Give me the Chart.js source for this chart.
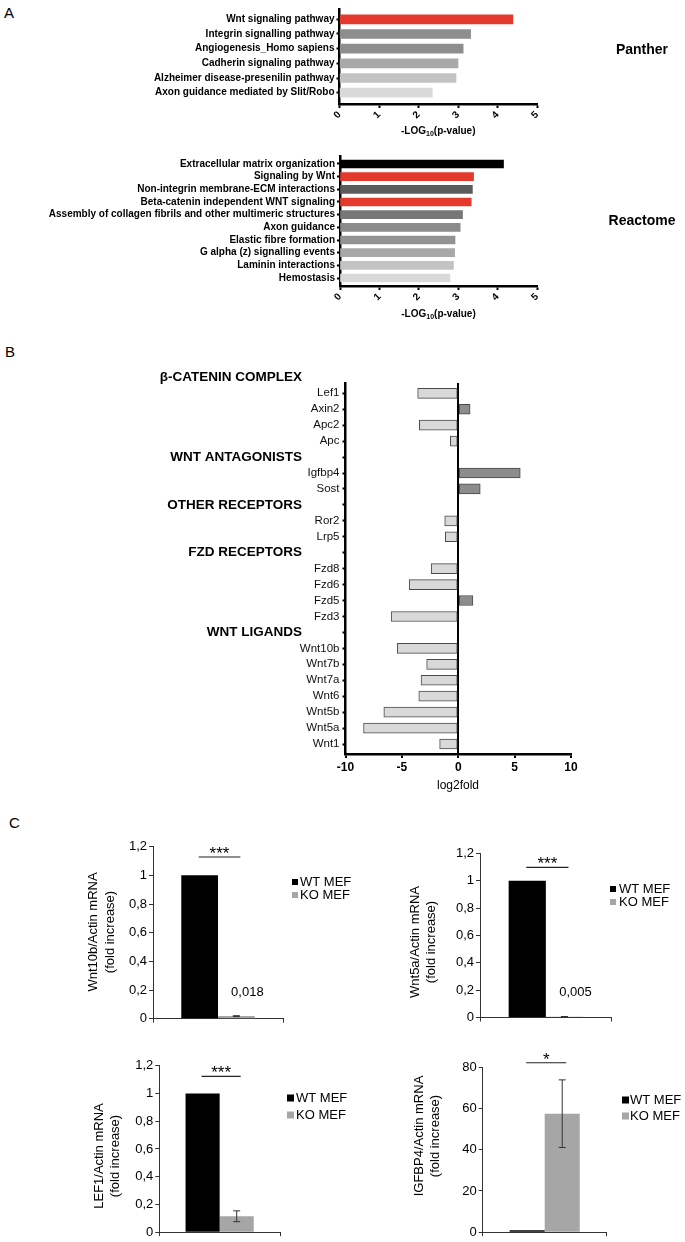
<!DOCTYPE html>
<html>
<head>
<meta charset="utf-8">
<script src="https://cdn.jsdelivr.net/npm/chart.js@4.4.1/dist/chart.umd.min.js"></script>
<style>
  html, body { margin: 0; padding: 0; background: #fff; }
  #page { position: relative; width: 685px; height: 1242px; overflow: hidden; }
  #page canvas { position: absolute; left: 0; top: 0; }
  .panel { position: absolute; font: 15px "Liberation Sans", Arial, sans-serif; color: #000; line-height: 17px; }
</style>
</head>
<body>
<div id="page">
  <div class="panel" style="left:4px;top:4px">A</div>
  <div class="panel" style="left:5px;top:343px">B</div>
  <div class="panel" style="left:9px;top:814px">C</div>
  <canvas id="panther" width="685" height="1242"></canvas>
  <canvas id="reactome" width="685" height="1242"></canvas>
  <canvas id="fold" width="685" height="1242"></canvas>
  <canvas id="q0" width="685" height="1242"></canvas>
  <canvas id="q1" width="685" height="1242"></canvas>
  <canvas id="q2" width="685" height="1242"></canvas>
  <canvas id="q3" width="685" height="1242"></canvas>
</div>
<script>
// ---- panel A: enrichment ----
const pantherTerms = ['Wnt signaling pathway', 'Integrin signalling pathway', 'Angiogenesis_Homo sapiens',
  'Cadherin signaling pathway', 'Alzheimer disease-presenilin pathway', 'Axon guidance mediated by Slit/Robo'];
const pantherValues = [4.39, 3.32, 3.13, 3.0, 2.95, 2.35];
const pantherColors = ['#e33a2d', '#8e8e8e', '#8e8e8e', '#a8a8a8', '#c3c3c3', '#d9d9d9'];

const reactomeTerms = ['Extracellular matrix organization', 'Signaling by Wnt', 'Non-integrin membrane-ECM interactions',
  'Beta-catenin independent WNT signaling', 'Assembly of collagen fibrils and other multimeric structures',
  'Axon guidance', 'Elastic fibre formation', 'G alpha (z) signalling events', 'Laminin interactions', 'Hemostasis'];
const reactomeValues = [4.15, 3.39, 3.36, 3.33, 3.11, 3.05, 2.92, 2.91, 2.88, 2.79];
const reactomeColors = ['#000000', '#e33a2d', '#5b5b5b', '#e33a2d', '#777777', '#8b8b8b', '#939393', '#a8a8a8', '#c3c3c3', '#d9d9d9'];

// ---- panel B: log2 fold change ----
const genes = ['Lef1', 'Axin2', 'Apc2', 'Apc', '', 'Igfbp4', 'Sost', '', 'Ror2', 'Lrp5', '',
  'Fzd8', 'Fzd6', 'Fzd5', 'Fzd3', '', 'Wnt10b', 'Wnt7b', 'Wnt7a', 'Wnt6', 'Wnt5b', 'Wnt5a', 'Wnt1'];
const log2fold = [-3.6, 1.05, -3.45, -0.7, null, 5.5, 1.95, null, -1.2, -1.15, null,
  -2.4, -4.35, 1.3, -5.95, null, -5.4, -2.8, -3.3, -3.5, -6.6, -8.4, -1.65];
const groupNames = ['β-CATENIN COMPLEX', 'WNT ANTAGONISTS', 'OTHER RECEPTORS', 'FZD RECEPTORS', 'WNT LIGANDS'];
const groupRows = [-1, 4, 7, 10, 15];

// ---- panel C: qPCR ----
const groups = ['WT MEF', 'KO MEF'];
const qpcrGenes = ['Wnt10b', 'Wnt5a', 'LEF1', 'IGFBP4'];
const wtValues = [1, 1, 1, 1];
const koValues = [0.018, 0.005, 0.115, 57.5];
const koErrors = [0.003, 0.002, 0.039, 16.4];
const significance = ['***', '***', '***', '*'];
const showValue = [true, true, false, false];

const W = 685, H = 1242;
const FONT = '"Liberation Sans", Arial, Helvetica, sans-serif';
Chart.defaults.font.family = FONT;
Chart.defaults.color = '#000';

// chart area placed at page coordinates [left, top, right, bottom]
function pad(area, yw, xh) {
  return { left: area[0] - yw, top: area[1], right: W - area[2], bottom: H - area[3] - xh };
}

function text(ctx, str, x, y, font, align) {
  ctx.font = font;
  ctx.textAlign = align || 'center';
  ctx.textBaseline = 'middle';
  ctx.fillStyle = '#000';
  ctx.fillText(str, x, y);
}

function logTitle(ctx, cx, cy) {
  const parts = [['-LOG', 'bold 10px ' + FONT, 0], ['10', 'bold 7px ' + FONT, 3], ['(p-value)', 'bold 10px ' + FONT, 0]];
  let total = 0;
  parts.forEach(p => { ctx.font = p[1]; total += ctx.measureText(p[0]).width; });
  let x = cx - total / 2;
  ctx.textAlign = 'left';
  ctx.textBaseline = 'middle';
  ctx.fillStyle = '#000';
  parts.forEach(p => {
    ctx.font = p[1];
    ctx.fillText(p[0], x, cy + p[2]);
    x += ctx.measureText(p[0]).width;
  });
}

function enrichChart(id, terms, values, colors, area, rowMin, rowMax, barPx, name, nameY, titleY) {
  new Chart(document.getElementById(id), {
    type: 'bar',
    data: {
      datasets: [{
        data: values.map((v, i) => ({ x: v, y: i })),
        backgroundColor: colors,
        barThickness: barPx
      }]
    },
    options: {
      indexAxis: 'y',
      responsive: false,
      animation: false,
      devicePixelRatio: 1,
      layout: { padding: pad(area, 330, 40) },
      plugins: { legend: { display: false }, tooltip: { enabled: false } },
      scales: {
        y: {
          type: 'linear', reverse: true, min: rowMin, max: rowMax, offset: false,
          afterBuildTicks: s => { s.ticks = terms.map((_, i) => ({ value: i })); },
          afterFit: s => { s.width = 330; },
          ticks: { callback: v => terms[v], font: { size: 10, weight: 'bold' }, color: '#000', padding: 2, autoSkip: false },
          grid: { drawOnChartArea: false, offset: false, tickLength: 3, tickWidth: 2, tickColor: '#000' },
          border: { color: '#000', width: 2.5 }
        },
        x: {
          type: 'linear', min: 0, max: 5,
          afterFit: s => { s.height = 40; },
          ticks: { stepSize: 1, minRotation: 45, maxRotation: 45, font: { size: 10, weight: 'bold' }, color: '#000', padding: 1 },
          grid: { drawOnChartArea: false, tickLength: 4, tickWidth: 2, tickColor: '#000' },
          border: { color: '#000', width: 2.5 }
        }
      }
    },
    plugins: [{
      id: 'labels-' + id,
      afterDraw: chart => {
        const ctx = chart.ctx;
        ctx.save();
        const a = chart.chartArea;
        logTitle(ctx, (a.left + a.right) / 2, titleY);
        text(ctx, name, 642, nameY, 'bold 14px ' + FONT);
        ctx.restore();
      }
    }]
  });
}

enrichChart('panther', pantherTerms, pantherValues, pantherColors, [339.5, 9.5, 537, 104], -0.668, 5.77, 9, 'Panther', 50, 131);
enrichChart('reactome', reactomeTerms, reactomeValues, reactomeColors, [340, 156, 537, 286], -0.631, 9.631, 8, 'Reactome', 221, 314);

// ---- panel B ----
new Chart(document.getElementById('fold'), {
  type: 'bar',
  data: {
    datasets: [{
      data: log2fold.map((v, i) => ({ x: v, y: i })).filter(d => d.x !== null),
      backgroundColor: log2fold.filter(v => v !== null).map(v => v < 0 ? '#d9d9d9' : '#8c8c8c'),
      borderColor: '#4a4a4a',
      borderWidth: 1,
      borderSkipped: false,
      barThickness: 10
    }]
  },
  options: {
    indexAxis: 'y',
    responsive: false,
    animation: false,
    devicePixelRatio: 1,
    layout: { padding: pad([345.5, 383, 571, 754], 60, 30) },
    plugins: { legend: { display: false }, tooltip: { enabled: false } },
    scales: {
      y: {
        type: 'linear', reverse: true, min: -0.646, max: 22.627, offset: false,
        afterBuildTicks: s => { s.ticks = genes.map((_, i) => ({ value: i })); },
        afterFit: s => { s.width = 60; },
        ticks: { callback: v => genes[v], font: { size: 11.5 }, color: '#111', padding: 3, autoSkip: false },
        grid: { drawOnChartArea: false, offset: false, tickLength: 3, tickWidth: 2, tickColor: '#000' },
        border: { color: '#000', width: 2.5 }
      },
      x: {
        type: 'linear', min: -10, max: 10,
        afterFit: s => { s.height = 30; },
        ticks: { stepSize: 5, font: { size: 12, weight: 'bold' }, color: '#000', padding: 2 },
        grid: {
          color: c => (c.tick && c.tick.value === 0) ? '#000' : 'rgba(0,0,0,0)',
          lineWidth: 2, tickColor: '#000', tickLength: 4, tickWidth: 2
        },
        border: { color: '#000', width: 2.5 }
      }
    }
  },
  plugins: [{
    id: 'fold-labels',
    afterDraw: chart => {
      const ctx = chart.ctx;
      const ys = chart.scales.y;
      ctx.save();
      groupNames.forEach((g, i) => {
        text(ctx, g, 302, ys.getPixelForValue(groupRows[i]), 'bold 13.5px ' + FONT, 'right');
      });
      text(ctx, 'log2fold', 458, 786, '12px ' + FONT);
      ctx.restore();
    }
  }]
});

// ---- panel C ----
const qpcrLayout = [
  { area: [153, 846.7, 283, 1018.7], max: 1.2, step: 0.2, titleX: [93, 110], titleY: 932, leg: [292, 300, 882, 895, 6], sigY: 1.128, labelY: 0.186 },
  { area: [480, 853.5, 611.7, 1017.5], max: 1.2, step: 0.2, titleX: [415, 431], titleY: 942, leg: [610, 619, 889, 902, 6], sigY: 1.099, labelY: 0.184 },
  { area: [159.3, 1065.7, 280, 1235], max: 1.2, step: 0.2, titleX: [99, 115], titleY: 1156, leg: [287, 296, 1098, 1115, 7], sigY: 1.123 },
  { area: [482.7, 1067.3, 606.7, 1236], max: 80, step: 20, titleX: [419, 435], titleY: 1136, leg: [622, 630, 1100, 1116, 7], sigY: 82.2 }
];
const barColors = ['#000000', '#a6a6a6'];
const comma = v => String(Math.round(v * 1000) / 1000).replace('.', ',');

qpcrGenes.forEach((gene, i) => {
  const L = qpcrLayout[i];
  new Chart(document.getElementById('q' + i), {
    type: 'bar',
    data: {
      labels: [gene],
      datasets: [
        { label: groups[0], data: [wtValues[i]], backgroundColor: barColors[0] },
        { label: groups[1], data: [koValues[i]], backgroundColor: barColors[1] }
      ]
    },
    options: {
      responsive: false,
      animation: false,
      devicePixelRatio: 1,
      categoryPercentage: 0.565,
      barPercentage: 1,
      layout: { padding: pad(L.area, 50, 15) },
      plugins: { legend: { display: false }, tooltip: { enabled: false } },
      scales: {
        x: {
          afterFit: s => { s.height = 15; },
          ticks: { display: false },
          grid: { drawOnChartArea: false, offset: true, tickLength: 4, color: '#333' },
          border: { color: '#333', width: 1 }
        },
        y: {
          min: 0, max: L.max,
          afterFit: s => { s.width = 50; },
          ticks: { stepSize: L.step, callback: v => comma(v), font: { size: 13 }, color: '#000', padding: 2 },
          grid: { drawOnChartArea: false, tickLength: 4, color: '#333' },
          border: { color: '#333', width: 1 }
        }
      }
    },
    plugins: [{
      id: 'qpcr-extras-' + i,
      afterDraw: chart => {
        const ctx = chart.ctx;
        const ys = chart.scales.y;
        const wt = chart.getDatasetMeta(0).data[0];
        const ko = chart.getDatasetMeta(1).data[0];
        ctx.save();
        // error bar on KO
        const top = ys.getPixelForValue(koValues[i] + koErrors[i]);
        const bot = ys.getPixelForValue(Math.max(koValues[i] - koErrors[i], 0));
        ctx.strokeStyle = '#333';
        ctx.lineWidth = 1;
        ctx.beginPath();
        ctx.moveTo(ko.x, top); ctx.lineTo(ko.x, bot);
        ctx.moveTo(ko.x - 3.5, top); ctx.lineTo(ko.x + 3.5, top);
        ctx.moveTo(ko.x - 3.5, bot); ctx.lineTo(ko.x + 3.5, bot);
        ctx.stroke();
        // significance
        const sy = ys.getPixelForValue(L.sigY);
        ctx.strokeStyle = '#222';
        ctx.lineWidth = 1.2;
        ctx.beginPath();
        ctx.moveTo(wt.x - 1, sy); ctx.lineTo(ko.x + 4, sy);
        ctx.stroke();
        ctx.font = '17px ' + FONT;
        ctx.textAlign = 'center';
        ctx.textBaseline = 'alphabetic';
        ctx.fillStyle = '#000';
        ctx.fillText(significance[i], (wt.x + ko.x + 3) / 2, sy + 2);
        // value label
        if (showValue[i]) {
          text(ctx, comma(koValues[i]), ko.x + 11, ys.getPixelForValue(L.labelY), '13px ' + FONT);
        }
        // legend
        const [sx, tx, y0, y1, sq] = L.leg;
        [y0, y1].forEach((y, k) => {
          ctx.fillStyle = barColors[k];
          ctx.fillRect(sx, y - sq / 2, sq, sq);
          text(ctx, chart.data.datasets[k].label, tx, y, '13px ' + FONT, 'left');
        });
        // y title
        ctx.translate(0, L.titleY);
        [gene + '/Actin mRNA', '(fold increase)'].forEach((t, k) => {
          ctx.save();
          ctx.translate(L.titleX[k], 0);
          ctx.rotate(-Math.PI / 2);
          text(ctx, t, 0, 0, '13px ' + FONT);
          ctx.restore();
        });
        ctx.restore();
      }
    }]
  });
});
</script>
</body>
</html>
